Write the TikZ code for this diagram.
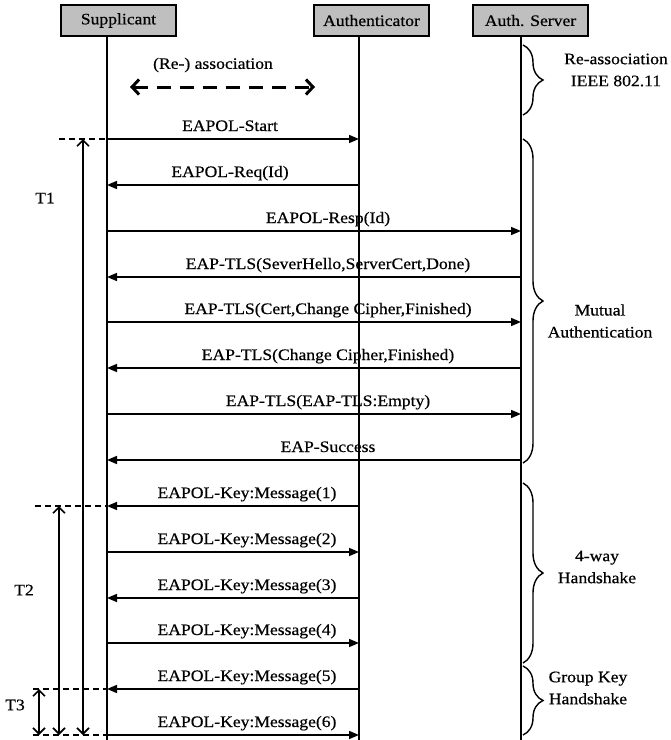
\documentclass[tikz,border=0pt]{standalone}
\usepackage{fontspec}
\setmainfont{Liberation Serif}[FakeStretch=1.1,FakeBold=0.5]
\usetikzlibrary{arrows.meta,decorations.pathreplacing}
\begin{document}
\begin{tikzpicture}[x=1pt,y=-1pt,
  hdr/.style={draw=black, line width=1.8pt, fill=black!25, minimum width=115pt, minimum height=31pt, inner sep=0pt, font=\fontsize{16}{18}\selectfont},
  life/.style={line width=2pt},
  msg/.style={line width=1.6pt, -{Triangle[length=10pt,width=8pt]}},
  lbl/.style={anchor=base, inner sep=0pt, font=\fontsize{16}{18}\selectfont},
  tarr/.style={line width=1.6pt, {Straight Barb[length=6pt,width=12pt]}-{Straight Barb[length=6pt,width=12pt]}},
  dsh/.style={line width=1.6pt, dash pattern=on 6pt off 4pt},
  brc/.style={line width=1.4pt, decorate, decoration={brace, amplitude=20pt}},
  note/.style={align=center, inner sep=0pt, font=\fontsize{16}{22}\selectfont},
]
\useasboundingbox (0,0) rectangle (671,740);

% headers
\node[hdr] (sup) at (118.5,20.5) {Supplicant};
\node[hdr] (aut) at (371.5,20.5) {Authenticator};
\node[hdr] (srv) at (530.5,20.5) {Auth. Server};

% lifelines
\coordinate (sTop) at (107,36);  \coordinate (sBot) at (107,740);
\coordinate (aTop) at (359,36);  \coordinate (aBot) at (359,740);
\coordinate (vTop) at (521,36);  \coordinate (vBot) at (521,740);
\draw[life] (sTop) -- (sBot);
\draw[life] (aTop) -- (aBot);
\draw[life] (vTop) -- (vBot);

% message rows
\foreach \k/\y in {0/139,1/185,2/231,3/277,4/322,5/368,6/414,7/460,8/506,9/552,10/598,11/643,12/689,13/735}{
  \coordinate (s\k) at (107,\y);
  \coordinate (a\k) at (359,\y);
  \coordinate (v\k) at (521,\y);
}

% (Re-) association
\node[lbl, anchor=center] (rlab) at (213,65) {(Re-) association};
\coordinate (rL) at (130,87);
\coordinate (rR) at (315,87);
\draw[line width=3pt, dash pattern=on 14pt off 9pt,
  {Straight Barb[length=7pt,width=15pt]}-{Straight Barb[length=7pt,width=15pt]}] (rL) -- (rR);

% messages
\draw[msg] (s0) -- (a0);  \node[lbl] (l0) at (230,131) {EAPOL-Start};
\draw[msg] (a1) -- (s1);  \node[lbl] (l1) at (230,177) {EAPOL-Req(Id)};
\draw[msg] (s2) -- (v2);  \node[lbl] (l2) at (328,223) {EAPOL-Resp(Id)};
\draw[msg] (v3) -- (s3);  \node[lbl] (l3) at (328,269) {EAP-TLS(SeverHello,ServerCert,Done)};
\draw[msg] (s4) -- (v4);  \node[lbl] (l4) at (328,314) {EAP-TLS(Cert,Change Cipher,Finished)};
\draw[msg] (v5) -- (s5);  \node[lbl] (l5) at (328,360) {EAP-TLS(Change Cipher,Finished)};
\draw[msg] (s6) -- (v6);  \node[lbl] (l6) at (328,406) {EAP-TLS(EAP-TLS:Empty)};
\draw[msg] (v7) -- (s7);  \node[lbl] (l7) at (328,452) {EAP-Success};
\draw[msg] (a8) -- (s8);  \node[lbl] (l8) at (247,498) {EAPOL-Key:Message(1)};
\draw[msg] (s9) -- (a9);  \node[lbl] (l9) at (247,544) {EAPOL-Key:Message(2)};
\draw[msg] (a10) -- (s10); \node[lbl] (l10) at (247,590) {EAPOL-Key:Message(3)};
\draw[msg] (s11) -- (a11); \node[lbl] (l11) at (247,635) {EAPOL-Key:Message(4)};
\draw[msg] (a12) -- (s12); \node[lbl] (l12) at (247,681) {EAPOL-Key:Message(5)};
\draw[msg] (s13) -- (a13); \node[lbl] (l13) at (247,727) {EAPOL-Key:Message(6)};

% timing marks
\coordinate (d0) at (59,139);
\coordinate (d8) at (35,506);
\coordinate (d12) at (33,689);
\coordinate (d13) at (33,735);
\draw[dsh] (d0) -- (s0);
\draw[dsh] (d8) -- (s8);
\draw[dsh] (d12) -- (s12);
\draw[dsh] (d13) -- (s13);

\coordinate (t1a) at (83,139); \coordinate (t1b) at (83,735);
\coordinate (t2a) at (59,506); \coordinate (t2b) at (59,735);
\coordinate (t3a) at (39,689); \coordinate (t3b) at (39,735);
\draw[tarr] (t1a) -- (t1b);
\draw[tarr] (t2a) -- (t2b);
\draw[tarr] (t3a) -- (t3b);
\node[lbl, anchor=center] (T1) at (45,198) {T1};
\node[lbl, anchor=center] (T2) at (24,590) {T2};
\node[lbl, anchor=center] (T3) at (15,705) {T3};

% braces
\coordinate (b1t) at (523,45);  \coordinate (b1b) at (523,115);
\coordinate (b2t) at (523,139); \coordinate (b2b) at (523,463);
\coordinate (b3t) at (523,483); \coordinate (b3b) at (523,663);
\coordinate (b4t) at (523,666); \coordinate (b4b) at (523,735);
\draw[brc] (b1t) -- (b1b);
\draw[brc] (b2t) -- (b2b);
\draw[brc] (b3t) -- (b3b);
\draw[brc] (b4t) -- (b4b);
\node[note] (n1) at (616,70) {Re-association\\IEEE 802.11};
\node[note] (n2) at (600,321) {Mutual\\Authentication};
\node[note] (n3) at (597,567) {4-way\\Handshake};
\node[note] (n4) at (588,688) {Group Key\\Handshake};
\end{tikzpicture}
\end{document}
